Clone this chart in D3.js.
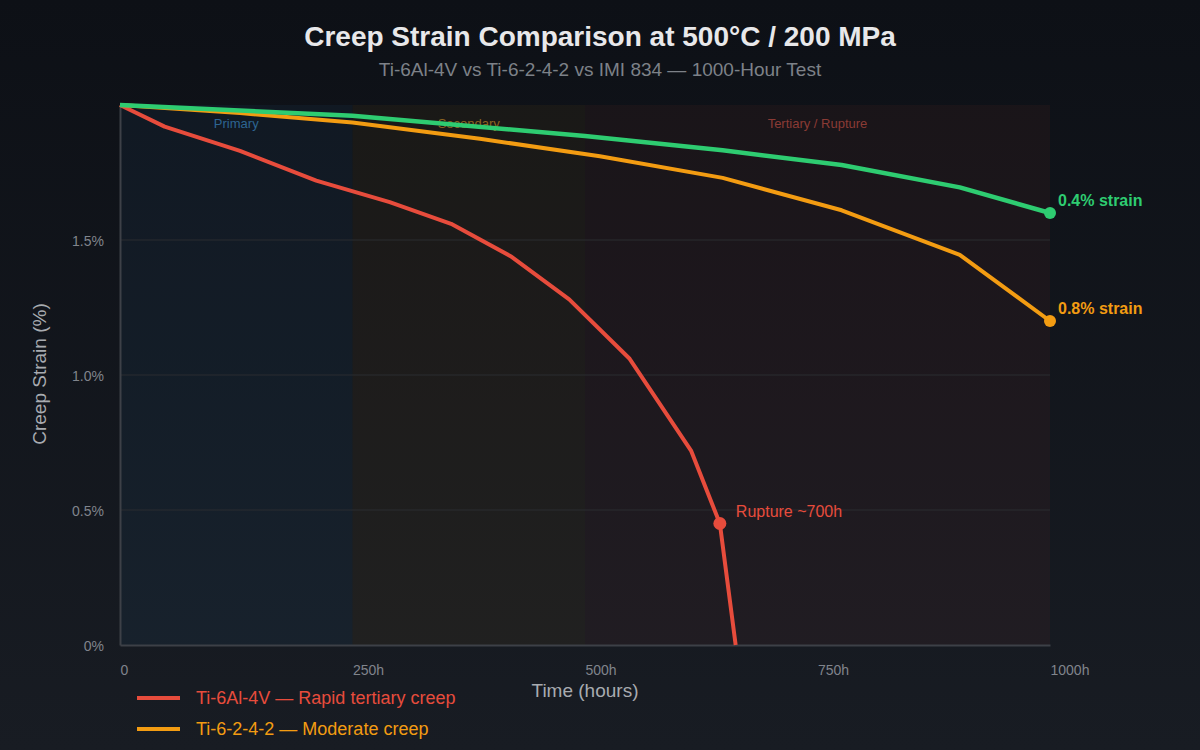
<!DOCTYPE html>
<html>
<head>
<meta charset="utf-8">
<script src="https://cdn.jsdelivr.net/npm/d3@7"></script>
<style>
  html, body { margin: 0; padding: 0; }
  body { width: 1200px; height: 750px; overflow: hidden; background: #11151c; }
  svg { display: block; font-family: 'Liberation Sans', Arial, sans-serif; }
</style>
</head>
<body>
<svg id="chart" width="1200" height="750"></svg>
<script>
// hours / strain (%)
const ti64Hours   = [0, 48, 129, 211, 290, 356, 420, 483, 548, 614, 645, 662];
const ti64Strain  = [0, 0.08, 0.17, 0.28, 0.36, 0.44, 0.56, 0.72, 0.94, 1.28, 1.55, 2.0];
const ti6242Hours  = [0, 129, 250, 387, 516, 648, 776, 903, 1000];
const ti6242Strain = [0, 0.03, 0.065, 0.125, 0.19, 0.27, 0.39, 0.555, 0.8];
const imiHours  = [0, 250, 500, 648, 776, 903, 1000];
const imiStrain = [0, 0.04, 0.115, 0.168, 0.222, 0.305, 0.4];

const xTicks = [0, 250, 500, 750, 1000];
const xTickLabels = ['0', '250h', '500h', '750h', '1000h'];
const yTicks = [0, 0.5, 1.0, 1.5];
const yTickLabels = ['0%', '0.5%', '1.0%', '1.5%'];

const phaseNames = ['Primary', 'Secondary', 'Tertiary / Rupture'];
const phaseStart = [0, 250, 500];
const phaseEnd = [250, 500, 1000];

const seriesNames = ['Ti-6Al-4V — Rapid tertiary creep', 'Ti-6-2-4-2 — Moderate creep', 'IMI 834 — Minimal creep'];
const seriesColors = ['#e74c3c', '#f39c12', '#2ecc71'];

const svg = d3.select('#chart'),
  margin = {top: 105, right: 150, bottom: 105, left: 120},
  width = 1200 - margin.left - margin.right,
  height = 750 - margin.top - margin.bottom;

// background gradient
const defs = svg.append('defs');
const grad = defs.append('linearGradient').attr('id', 'bg').attr('x1', 0).attr('y1', 0).attr('x2', 0).attr('y2', 1);
grad.append('stop').attr('offset', '0%').attr('stop-color', '#0d1016');
grad.append('stop').attr('offset', '100%').attr('stop-color', '#181c23');
svg.append('rect').attr('width', 1200).attr('height', 750).attr('fill', 'url(#bg)');

const x = d3.scaleLinear().domain([0, 1000]).range([0, width]);
// lines are drawn with strain growing downward, axis labels count up from the bottom
const yLine = d3.scaleLinear().domain([0, 2]).range([0, height]);
const yAxis = d3.scaleLinear().domain([0, 2]).range([height, 0]);

const g = svg.append('g')
  .attr('transform', 'translate(' + margin.left + ',' + margin.top + ')');

// phase bands
const bandFill = ['rgba(52,152,219,0.06)', 'rgba(243,156,18,0.05)', 'rgba(231,76,60,0.05)'];
const bandText = ['#2d6592', '#8c6420', '#8a3b35'];
g.selectAll('.band')
  .data(phaseNames)
  .enter().append('rect')
    .attr('class', 'band')
    .attr('x', (d, i) => x(phaseStart[i]))
    .attr('y', 0)
    .attr('width', (d, i) => x(phaseEnd[i]) - x(phaseStart[i]))
    .attr('height', height)
    .attr('fill', (d, i) => bandFill[i]);

g.selectAll('.band-label')
  .data(phaseNames)
  .enter().append('text')
    .attr('class', 'band-label')
    .attr('x', (d, i) => (x(phaseStart[i]) + x(phaseEnd[i])) / 2)
    .attr('y', 23)
    .attr('text-anchor', 'middle')
    .attr('font-size', 13)
    .attr('fill', (d, i) => bandText[i])
    .text(d => d);

// grid
g.selectAll('.grid')
  .data(yTicks.filter(d => d > 0))
  .enter().append('line')
    .attr('x1', 0).attr('x2', width)
    .attr('y1', d => yAxis(d)).attr('y2', d => yAxis(d))
    .attr('stroke', '#2a2c31')
    .attr('stroke-width', 1);

// axes
const yAx = g.append('g')
  .call(d3.axisLeft(yAxis).tickValues(yTicks).tickFormat((d, i) => yTickLabels[i]).tickSize(0).tickPadding(16));
yAx.select('.domain').attr('stroke', '#3d4047').attr('stroke-width', 2);
yAx.selectAll('text').attr('fill', '#80848c').attr('font-size', 14).attr('dy', '0.4em');

const xAx = g.append('g')
  .attr('transform', 'translate(0,' + height + ')')
  .call(d3.axisBottom(x).tickValues(xTicks).tickFormat((d, i) => xTickLabels[i]).tickSize(0).tickPadding(20));
xAx.select('.domain').attr('stroke', '#3d4047').attr('stroke-width', 2);
xAx.selectAll('text').attr('fill', '#80848c').attr('font-size', 14).attr('text-anchor', 'start');

svg.append('text')
  .attr('x', 585).attr('y', 697)
  .attr('text-anchor', 'middle')
  .attr('font-size', 19).attr('fill', '#a8abb0')
  .text('Time (hours)');

svg.append('text')
  .attr('transform', 'translate(46,374) rotate(-90)')
  .attr('text-anchor', 'middle')
  .attr('font-size', 19).attr('fill', '#a8abb0')
  .text('Creep Strain (%)');

// lines
const line = d3.line().x(d => x(d[0])).y(d => yLine(d[1]));
const series = [
  d3.zip(ti64Hours, ti64Strain),
  d3.zip(ti6242Hours, ti6242Strain),
  d3.zip(imiHours, imiStrain)
];
series.forEach((s, i) => {
  g.append('path')
    .datum(s)
    .attr('fill', 'none')
    .attr('stroke', seriesColors[i])
    .attr('stroke-width', i === 2 ? 4.5 : 4)
    .attr('stroke-linejoin', 'round')
    .attr('d', line);
});

// end markers + notes
const rupture = series[0][10];
g.append('circle').attr('cx', x(rupture[0])).attr('cy', yLine(rupture[1])).attr('r', 6.5).attr('fill', seriesColors[0]);
g.append('text')
  .attr('x', x(rupture[0]) + 16).attr('y', yLine(rupture[1]) - 7)
  .attr('font-size', 16).attr('fill', seriesColors[0])
  .text('Rupture ~700h');

[[1, '0.8% strain'], [2, '0.4% strain']].forEach(([i, label]) => {
  const last = series[i][series[i].length - 1];
  g.append('circle').attr('cx', x(last[0])).attr('cy', yLine(last[1])).attr('r', 6).attr('fill', seriesColors[i]);
  g.append('text')
    .attr('x', x(last[0]) + 8).attr('y', yLine(last[1]) - 7)
    .attr('font-size', 16).attr('font-weight', 'bold')
    .attr('fill', seriesColors[i])
    .text(label);
});

// legend (third row falls below the canvas, as in the original)
const legend = svg.append('g').attr('transform', 'translate(137,698)');
seriesNames.forEach((name, i) => {
  const row = legend.append('g').attr('transform', 'translate(0,' + (i * 31) + ')');
  row.append('line').attr('x1', 0).attr('x2', 43).attr('y1', 0).attr('y2', 0)
    .attr('stroke', seriesColors[i]).attr('stroke-width', 4);
  row.append('text').attr('x', 59).attr('y', 6)
    .attr('font-size', 18).attr('fill', seriesColors[i])
    .text(name);
});

// titles
svg.append('text')
  .attr('x', 600).attr('y', 46)
  .attr('text-anchor', 'middle')
  .attr('font-size', 28).attr('font-weight', 'bold').attr('fill', '#e8e8ea')
  .text('Creep Strain Comparison at 500°C / 200 MPa');

svg.append('text')
  .attr('x', 600).attr('y', 76)
  .attr('text-anchor', 'middle')
  .attr('font-size', 19).attr('fill', '#7d8188')
  .text('Ti-6Al-4V vs Ti-6-2-4-2 vs IMI 834 — 1000-Hour Test');
</script>
</body>
</html>
